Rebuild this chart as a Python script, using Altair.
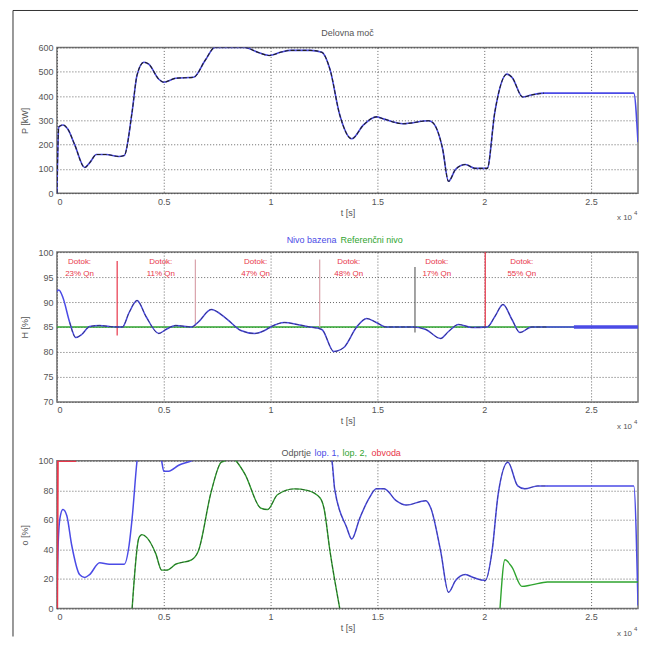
import altair as alt
import pandas as pd

X_MAX = 27200
X_TICKS = [0, 5000, 10000, 15000, 20000, 25000]

# ---- Panel 1: active power ----
P_T = [0, 90, 280, 500, 830, 1300, 1530, 1850, 2300, 2900, 3150, 3520, 3750, 4070, 4300,
       4770, 5000, 5560, 6400, 6940, 7400, 8150, 8800, 9400, 9950, 10460, 10930, 11850,
       12400, 12780, 13240, 13800, 14350, 14950, 15280, 16200, 17400, 17600, 18050, 18330,
       18660, 19120, 19580, 20140, 20500, 21060, 21300, 21800, 22200, 22800, 27000, 27200]
P_KW = [0, 273, 281, 265, 200, 106, 125, 159, 159, 151, 155, 335, 486, 539, 531,
        469, 457, 473, 477, 547, 600, 600, 600, 580, 567, 580, 588, 588,
        580, 510, 322, 224, 281, 314, 306, 286, 298, 290, 184, 49,
        98, 118, 102, 102, 335, 490, 477, 396, 404, 412, 412, 210]

# ---- Panel 2: basin level ----
H_T = [0, 90, 280, 600, 880, 1160, 1530, 2000, 2450, 2820, 3060, 3380, 3750, 4170, 4770,
       5100, 5560, 6300, 6620, 7220, 7870, 8610, 9260, 9720, 10000, 10650, 11250, 11850,
       12400, 12960, 13430, 14030, 14500, 14950, 15420, 16670, 17270, 17960, 18330, 18800,
       19440, 20140, 20500, 20880, 21300, 21670, 22220, 22960, 24200, 27200]
H_PCT = [92.1, 92.4, 90.9, 85.9, 82.9, 83.5, 85.1, 85.3, 85.1, 85, 85, 87.9, 90.3, 87.1, 83.7,
         84.5, 85.3, 85, 86, 88.5, 86.9, 84.3, 83.7, 84.3, 85, 85.9, 85.5, 85,
         84.5, 80.1, 80.9, 85, 86.7, 85.9, 85, 85, 84.5, 82.7, 84.1, 85.5,
         84.9, 85, 87.1, 89.5, 86.5, 83.9, 85, 85, 85, 85]
REF_T = [0, 27200]
REF_H = [85, 85]

EVENT_T = [2820, 6480, 12300, 16760, 20050]
EVENT_TOP = [98.2, 98.5, 98.5, 97.0, 100.0]
EVENT_BOT = [83.3, 85.0, 85.0, 83.9, 85.0]
EVENT_KIND = ["a", "b", "b", "c", "a"]

ANN_T = [1060, 4860, 9300, 13660, 17780, 21760]
ANN_TEXT = ["Dotok:\n23% Qn", "Dotok:\n11% Qn", "Dotok:\n47% Qn",
            "Dotok:\n48% Qn", "Dotok:\n17% Qn", "Dotok:\n55% Qn"]

# ---- Panel 3: openings ----
B_T = [0, 50, 140, 280, 460, 690, 1060, 1300, 1530, 2000, 2450, 3150, 3380, 3520, 3750,
       3890, 4300, 4900, 5000, 5230, 5700, 6300, 9000, 11250, 12870, 13000, 13560, 13800,
       14170, 14630, 14950, 15320, 15880, 16340, 17270, 17500, 17960, 18330, 18660, 19120,
       19490, 20050, 20370, 20650, 21110, 21570, 21900, 22500, 22960, 27000, 27200]
B_PCT = [8, 40, 61, 67, 63, 43, 23, 21, 23, 31, 30, 30, 43, 61, 100,
         115, 120, 100, 93, 93, 97, 100, 130, 130, 100, 81, 55, 47,
         61, 75, 81, 81, 73, 70, 73, 68, 39, 11, 19, 23,
         21, 19, 39, 77, 99, 83, 81, 83, 83, 83, 2]

G_T = [3520, 3840, 3980, 4210, 4630, 4900, 5140, 5560, 6300, 6620, 7220, 7690, 7870, 8100,
       8380, 8800, 9540, 9860, 10320, 11110, 11710, 12310, 12500, 12780, 13240,
       20740, 20970, 21300, 21760, 22220, 22960, 27200]
G_PCT = [0, 48, 50, 48, 37, 26, 26, 30, 33, 39, 79, 99, 100, 104,
         100, 91, 68, 67, 77, 81, 80, 75, 68, 39, 0,
         0, 33, 28, 15, 16, 18, 18]
G_SEG = [1] * 25 + [2] * 7

R_T = [0, 30, 900]
R_PCT = [0, 100, 100]

BLUE = "#4b4be6"
GREEN = "#2fa42f"
RED = "#e8364a"
DARK = "#222222"
FONT = "Liberation Sans"

p_df = pd.DataFrame({"t": P_T, "v": P_KW})
h_df = pd.DataFrame({"t": H_T, "v": H_PCT})
ref_df = pd.DataFrame({"t": REF_T, "v": REF_H})
ev_df = pd.DataFrame({"t": EVENT_T, "top": EVENT_TOP, "bot": EVENT_BOT, "kind": EVENT_KIND})
ann_df = pd.DataFrame({"t": ANN_T, "text": ANN_TEXT})
b_df = pd.DataFrame({"t": B_T, "v": B_PCT})
g_df = pd.DataFrame({"t": G_T, "v": G_PCT, "seg": G_SEG})
r_df = pd.DataFrame({"t": R_T, "v": R_PCT})
one = pd.DataFrame({"k": [0]})

W = 582
H1, H2, H3 = 146, 150, 148
FRAME_X = -44
FRAME_Y = -37


def xenc():
    return alt.X("t:Q", scale=alt.Scale(domain=[0, X_MAX], nice=False, zero=False),
                 axis=alt.Axis(values=X_TICKS, labelExpr="datum.value / 10000",
                               title="t [s]", labelPadding=4, titlePadding=2))


def yenc(domain, ticks, title, field="v:Q"):
    return alt.Y(field, scale=alt.Scale(domain=domain, nice=False, zero=False),
                 axis=alt.Axis(values=ticks, title=title, titlePadding=8, labelPadding=4))


def txt(s, x, y, color="#555", align="center", size=9, base="middle"):
    return alt.Chart(one).mark_text(text=s, color=color, align=align, baseline=base,
                                     fontSize=size, font=FONT).encode(
        x=alt.value(x), y=alt.value(y))


def exp_label(h):
    return [txt("x 10", W - 6, h + 25, align="right", size=8),
            txt("4", W - 4, h + 20, align="left", size=6)]


Y1 = yenc([0, 600], [0, 100, 200, 300, 400, 500, 600], "P [kW]")
Y2 = yenc([70, 100], [70, 75, 80, 85, 90, 95, 100], "H [%]")
Y3 = yenc([0, 100], [0, 20, 40, 60, 80, 100], "o [%]")

# Panel 1
p_blue = alt.Chart(p_df).mark_line(color=BLUE, strokeWidth=1.6, interpolate="monotone",
                                   clip=True).encode(x=xenc(), y=Y1)
p_black = alt.Chart(p_df).transform_filter("datum.t <= 22800").mark_line(
    color=DARK, strokeWidth=1.1, strokeDash=[4, 2], interpolate="monotone", clip=True).encode(
    x=xenc(), y=Y1)
frame_top = alt.Chart(one).mark_rule(color="#333", strokeWidth=1).encode(
    x=alt.value(FRAME_X), x2=alt.value(W), y=alt.value(FRAME_Y))
frame_left = alt.Chart(one).mark_rule(color="#333", strokeWidth=1).encode(
    x=alt.value(FRAME_X), y=alt.value(FRAME_Y), y2=alt.value(590))
frame_pad = alt.Chart(one).mark_rule(color="white", opacity=0, strokeWidth=1).encode(
    x=alt.value(FRAME_X - 4), x2=alt.value(FRAME_X), y=alt.value(FRAME_Y))
panel1 = alt.layer(p_blue, p_black, frame_pad, frame_top, frame_left,
                   txt("Delovna moč", W / 2, -14), *exp_label(H1)).properties(width=W, height=H1)

# Panel 2
h_ref = alt.Chart(ref_df).mark_line(color=GREEN, strokeWidth=1.3).encode(x=xenc(), y=Y2)
h_blue = alt.Chart(h_df).mark_line(color=BLUE, strokeWidth=1.5, interpolate="monotone",
                                   clip=True).encode(x=xenc(), y=Y2)
h_tail = alt.Chart(h_df).transform_filter("datum.t >= 24200").mark_line(
    color=BLUE, strokeWidth=3.5).encode(x=xenc(), y=Y2)
h_dark = alt.Chart(h_df).transform_filter("datum.t >= 600 && datum.t <= 22960").mark_line(
    color=DARK, strokeWidth=1, strokeDash=[4, 2], opacity=0.55, interpolate="monotone").encode(
    x=xenc(), y=Y2)
h_ev = alt.Chart(ev_df).mark_rule(strokeWidth=1.2).encode(
    x=xenc(), y=yenc([70, 100], [70, 75, 80, 85, 90, 95, 100], "H [%]", "top:Q"), y2="bot:Q",
    color=alt.Color("kind:N", scale=alt.Scale(domain=["a", "b", "c"],
                                              range=[RED, "#d9a3ab", "#666666"]), legend=None))
h_ann = alt.Chart(ann_df).transform_calculate(v="98.9").mark_text(
    color=RED, fontSize=8, font=FONT, lineBreak="\n", baseline="top", lineHeight=12,
    align="center").encode(x=xenc(), y=Y2, text="text:N")
panel2 = alt.layer(h_ref, h_ev, h_blue, h_tail, h_dark, h_ann,
                   txt("Nivo bazena", 280, -12, color=BLUE, align="right"),
                   txt("Referenčni nivo", 284, -12, color=GREEN, align="left"),
                   *exp_label(H2)).properties(width=W, height=H2)

# Panel 3
b_line = alt.Chart(b_df).mark_line(color=BLUE, strokeWidth=1.5, interpolate="monotone",
                                   clip=True).encode(x=xenc(), y=Y3)
b_dark = alt.Chart(b_df).transform_filter("datum.t >= 12800 && datum.t <= 22960").mark_line(
    color=DARK, strokeWidth=1, strokeDash=[4, 2], opacity=0.35, interpolate="monotone",
    clip=True).encode(x=xenc(), y=Y3)
g_line = alt.Chart(g_df).mark_line(color=GREEN, strokeWidth=1.4, interpolate="monotone",
                                   clip=True).encode(x=xenc(), y=Y3, detail="seg:N")
g_dark = alt.Chart(g_df).transform_filter("datum.t <= 13240").mark_line(
    color=DARK, strokeWidth=1, strokeDash=[4, 2], opacity=0.5, interpolate="monotone",
    clip=True).encode(x=xenc(), y=Y3)
r_line = alt.Chart(r_df).mark_line(color=RED, strokeWidth=2.5, clip=True).encode(
    x=xenc(), y=Y3)
panel3 = alt.layer(b_line, b_dark, g_line, g_dark, r_line,
                   txt("Odprtje", 225, -8, align="left"),
                   txt("lop. 1,", 258, -8, color=BLUE, align="left"),
                   txt("lop. 2,", 286, -8, color=GREEN, align="left"),
                   txt("obvoda", 315, -8, color=RED, align="left"),
                   *exp_label(H3)).properties(width=W, height=H3)

chart = alt.vconcat(panel1, panel2, panel3, spacing=59, bounds="flush").properties(
    padding=0, background="white"
).configure_axis(
    grid=True, gridColor="#333", gridDash=[1, 2], gridOpacity=0.75, ticks=False, domain=False,
    labelFont=FONT, labelFontSize=9, labelColor="#555", titleFont=FONT, titleFontSize=9,
    titleFontWeight="normal", titleColor="#555", labelOverlap=False
).configure_view(stroke="#777", strokeWidth=1.5)

chart.save("out.html", embed_options={"renderer": "svg", "actions": False})
